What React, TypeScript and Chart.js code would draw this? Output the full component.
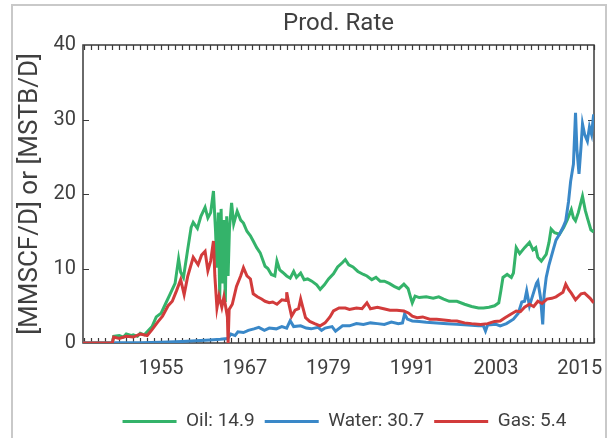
import React, { useEffect, useRef } from 'react';
import { Chart, registerables } from 'chart.js';

Chart.register(...registerables);

const CHART_TITLE = 'Prod. Rate';
const Y_TITLE = '[MMSCF/D] or [MSTB/D]';
const X_MIN = 1943.8;
const X_MAX = 2017.05;
const xTickYears = [1955, 1967, 1979, 1991, 2003, 2015];
const yTickValues = [0, 10, 20, 30, 40];
const seriesNames = ['Oil: 14.9', 'Water: 30.7', 'Gas: 5.4'];
const seriesColors = ['#34b36a', '#3a88c8', '#d23b3b'];

// [year, rate]
const oilSeries: [number, number][] = [
  [1943.8, 0], [1948.0, 0], [1948.2, 0.9], [1949, 1.0], [1949.6, 0.8], [1950, 1.2], [1950.7, 1.0], [1951, 1.1],
  [1951.6, 0.9], [1952, 1.3], [1952.6, 1.1], [1953, 1.5], [1953.7, 2.2], [1954.3, 3.5], [1955, 4.0],
  [1955.6, 5.2], [1956.3, 6.6], [1957, 8.0], [1957.5, 11.3], [1957.8, 9.5], [1958.2, 8.8], [1958.8, 12.5],
  [1959.3, 15.5], [1959.6, 16.2], [1960.2, 15.4], [1960.7, 17.0], [1961.3, 18.2], [1961.7, 16.8],
  [1962.1, 17.5], [1962.5, 20.4], [1962.8, 15.0], [1963.0, 10.1], [1963.2, 17.5], [1963.4, 6.0],
  [1963.6, 18.0], [1963.8, 8.0], [1964.0, 16.5], [1964.2, 5.5], [1964.4, 17.0], [1964.6, 9.0],
  [1964.8, 15.5], [1965.1, 18.8], [1965.4, 16.0], [1965.9, 17.7], [1966.4, 16.5], [1966.8, 16.1],
  [1967.3, 15.0], [1967.8, 14.4], [1968.2, 13.7], [1968.7, 12.8], [1969.2, 12.1], [1969.9, 10.3],
  [1970.3, 10.0], [1970.8, 9.2], [1971.3, 9.0], [1971.6, 11.0], [1972.0, 9.8], [1972.4, 9.5], [1973, 9.0],
  [1973.5, 8.7], [1974, 9.6], [1974.4, 8.8], [1975, 9.4], [1975.5, 8.5], [1976, 8.6], [1976.6, 8.3],
  [1977.3, 7.8], [1977.8, 7.2], [1978.4, 7.8], [1979, 8.6], [1979.7, 9.3], [1980.3, 10.2], [1981, 10.8],
  [1981.4, 11.2], [1981.9, 10.5], [1982.5, 10.2], [1983.2, 9.6], [1984, 9.2], [1984.5, 9.0], [1985.2, 8.5],
  [1985.8, 8.8], [1986.4, 8.3], [1987, 8.3], [1987.7, 8.0], [1988.4, 7.6], [1989.1, 7.3], [1989.8, 7.9],
  [1990.4, 7.3], [1990.8, 6.0], [1991.0, 5.4], [1991.4, 6.3], [1992, 6.1], [1993, 6.2], [1994, 6.0],
  [1994.8, 6.2], [1995.5, 5.9], [1996.3, 5.6], [1997.4, 5.6], [1998.5, 5.2], [1999.5, 4.9], [2000.5, 4.7],
  [2001.2, 4.7], [2002, 4.8], [2002.8, 5.0], [2003.4, 5.4], [2003.7, 7.0], [2004.0, 8.8], [2004.6, 9.2],
  [2005.2, 8.8], [2005.5, 9.4], [2005.9, 12.8], [2006.4, 12.0], [2007.1, 12.8], [2007.8, 13.5],
  [2008.3, 12.5], [2008.7, 12.8], [2009.0, 11.5], [2009.5, 11.0], [2010.2, 11.9], [2010.6, 13.5],
  [2010.9, 15.3], [2011.4, 14.8], [2012.1, 14.6], [2012.7, 15.5], [2013.2, 16.5], [2013.8, 17.9],
  [2014.1, 16.8], [2014.4, 16.4], [2014.8, 17.5], [2015.4, 19.7], [2015.8, 17.8], [2016.1, 16.8],
  [2016.6, 15.2], [2017.0, 14.9],
];

const waterSeries: [number, number][] = [
  [1943.8, 0], [1948.0, 0], [1948.5, 0.05], [1952, 0.05], [1955, 0.1], [1958, 0.2], [1960, 0.3],
  [1962, 0.4], [1963.5, 0.5], [1964.5, 0.6], [1965, 1.2], [1965.6, 1.0], [1966, 1.5], [1966.8, 1.4],
  [1967.5, 1.7], [1968.3, 1.9], [1969, 2.1], [1969.8, 1.7], [1970.5, 2.0], [1971.5, 1.9], [1972.3, 2.2],
  [1973, 2.0], [1973.5, 3.0], [1974, 2.2], [1975, 2.3], [1975.8, 2.0], [1976.5, 1.9], [1977.5, 2.1],
  [1978, 1.7], [1978.5, 2.0], [1979.5, 2.2], [1980, 1.6], [1981, 2.3], [1982, 2.3], [1983, 2.6],
  [1984, 2.5], [1985, 2.7], [1986, 2.6], [1987, 2.5], [1988, 2.8], [1989, 2.6], [1989.6, 2.7],
  [1989.9, 3.9], [1990.3, 3.2], [1991, 2.95], [1992, 2.9], [1993, 2.8], [1994.5, 2.7], [1996, 2.6],
  [1997.4, 2.5], [1999, 2.4], [2000.5, 2.3], [2001.2, 2.3], [2001.5, 1.6], [2001.8, 2.4], [2003, 2.5],
  [2003.6, 2.3], [2004.5, 2.6], [2005.5, 3.2], [2006.2, 4.0], [2006.7, 5.5], [2007.1, 5.6], [2007.4, 7.0],
  [2007.8, 5.0], [2008.3, 6.5], [2008.8, 8.0], [2009.0, 8.3], [2009.4, 6.0], [2009.7, 2.5], [2009.9, 6.5],
  [2010.2, 8.8], [2010.6, 10.5], [2011.2, 12.5], [2011.6, 13.8], [2012.1, 14.6], [2012.6, 15.5],
  [2013.0, 16.4], [2013.4, 19.0], [2013.7, 21.7], [2014.1, 24.0], [2014.4, 30.9], [2014.6, 26.0],
  [2014.9, 22.7], [2015.2, 26.5], [2015.4, 29.4], [2015.7, 28.0], [2016.1, 27.1], [2016.4, 29.0],
  [2016.7, 28.0], [2017.0, 30.7],
];

const gasSeries: [number, number][] = [
  [1943.8, 0], [1948.0, 0], [1948.2, 0.8], [1949, 0.6], [1950, 0.9], [1951, 0.8], [1952, 1.2], [1953, 1.0],
  [1953.7, 1.8], [1954.5, 2.8], [1955.2, 3.6], [1956, 5.0], [1956.6, 5.6], [1957.2, 7.0], [1957.8, 8.5],
  [1958.3, 6.5], [1958.8, 8.9], [1959.6, 11.5], [1960.3, 10.5], [1960.8, 11.8], [1961.3, 12.3],
  [1961.7, 9.7], [1962.1, 11.0], [1962.5, 13.7], [1962.7, 9.0], [1963.0, 4.7], [1963.3, 6.3],
  [1963.7, 4.8], [1964.0, 6.2], [1964.3, 4.6], [1964.5, 3.5], [1964.6, 0.0], [1964.75, 4.5],
  [1965.2, 5.2], [1965.8, 7.6], [1966.4, 9.0], [1966.8, 10.1], [1967.3, 9.0], [1967.8, 8.6],
  [1968.2, 6.6], [1968.8, 6.2], [1969.4, 5.9], [1969.9, 5.6], [1970.5, 5.4], [1971, 5.5], [1971.6, 5.2],
  [1972.3, 5.8], [1972.9, 5.7], [1973.0, 6.8], [1973.3, 5.3], [1973.7, 3.6], [1974.2, 4.4], [1974.7, 4.6],
  [1975.0, 5.9], [1975.3, 4.8], [1975.7, 3.4], [1976.3, 2.9], [1977, 2.6], [1977.8, 2.3], [1978.5, 2.7],
  [1979.2, 3.5], [1979.7, 4.3], [1980.5, 4.7], [1981.4, 4.7], [1982, 4.5], [1983, 4.7], [1983.8, 4.6],
  [1984.5, 5.4], [1985, 4.6], [1986, 4.8], [1986.9, 4.6], [1987.8, 4.4], [1988.8, 4.4], [1989.8, 4.3],
  [1990.5, 4.0], [1991.0, 3.6], [1991.7, 3.4], [1992.5, 3.5], [1993.5, 3.2], [1994.5, 3.2], [1995.5, 3.1],
  [1996.5, 3.0], [1997.4, 2.95], [1998.5, 2.7], [1999.5, 2.6], [2000.8, 2.5], [2001.8, 2.6], [2002.8, 2.9],
  [2003.6, 2.95], [2004.3, 3.4], [2005, 3.8], [2005.9, 4.3], [2006.5, 4.2], [2007.1, 4.8], [2007.8, 5.2],
  [2008.4, 4.9], [2009, 5.6], [2009.6, 5.3], [2010.3, 5.9], [2011, 6.0], [2011.6, 6.2], [2012.1, 6.5],
  [2012.6, 6.8], [2013, 7.9], [2013.4, 7.2], [2013.8, 6.7], [2014.4, 5.8], [2015.2, 6.6], [2015.7, 6.7],
  [2016.5, 6.0], [2017.0, 5.4],
];

const allSeries = [oilSeries, waterSeries, gasSeries];

const TEXT_COLOR = '#3f3f3f';
const AXIS_COLOR = '#3a3a3a';

const framePlugin = {
  id: 'frameTicks',
  afterLayout(chart: any) {
    if (chart.legend) {
      chart.legend.left += 6;
      chart.legend.right += 6;
    }
  },
  beforeDraw(chart: any) {
    const ctx = chart.ctx;
    ctx.save();
    ctx.strokeStyle = '#c9c9c9';
    ctx.lineWidth = 2;
    ctx.strokeRect(12, 5, 594, 480);
    ctx.restore();
  },
  beforeDatasetsDraw(chart: any) {
    const { ctx, chartArea, scales } = chart;
    const { left, right, top, bottom } = chartArea;
    const x = scales.x;
    const y = scales.y;
    ctx.save();
    ctx.strokeStyle = AXIS_COLOR;
    ctx.lineWidth = 1.5;
    ctx.strokeRect(left, top, right - left, bottom - top);
    ctx.beginPath();
    for (let yr = Math.ceil(x.min); yr <= x.max; yr++) {
      const px = Math.round(x.getPixelForValue(yr)) + 0.5;
      ctx.moveTo(px, bottom);
      ctx.lineTo(px, bottom - 5);
      ctx.moveTo(px, top);
      ctx.lineTo(px, top + 5);
    }
    for (const v of yTickValues) {
      if (v === 0 || v === 40) continue;
      const py = Math.round(y.getPixelForValue(v)) + 0.5;
      ctx.moveTo(left, py);
      ctx.lineTo(left + 6, py);
      ctx.moveTo(right, py);
      ctx.lineTo(right - 6, py);
    }
    ctx.lineWidth = 1.2;
    ctx.stroke();
    ctx.restore();
  },
};

export default function App() {
  const ref = useRef<HTMLCanvasElement | null>(null);

  useEffect(() => {
    if (!ref.current) return;
    const datasets = allSeries.map((s, i) => ({
      label: seriesNames[i],
      data: s.map(([t, v]) => ({ x: t, y: v })),
      borderColor: seriesColors[i],
      backgroundColor: seriesColors[i],
      borderWidth: 3,
      pointRadius: 0,
      tension: 0,
      order: 3 - i,
    }));
    const chart = new Chart(ref.current, {
      type: 'line',
      data: { datasets },
      plugins: [framePlugin],
      options: {
        responsive: false,
        animation: false,
        layout: { padding: { left: 0, right: 17, top: 0, bottom: 0 } },
        plugins: {
          tooltip: { enabled: false },
          title: {
            display: true,
            text: CHART_TITLE,
            fullSize: false,
            color: TEXT_COLOR,
            font: { family: 'Roboto', size: 24, weight: 'normal' },
            padding: { top: 10, bottom: 6.2 },
          },
          legend: {
            position: 'bottom',
            fullSize: false,
            labels: {
              boxWidth: 54,
              boxHeight: 0,
              padding: 10,
              color: TEXT_COLOR,
              font: { family: 'Roboto', size: 19 },
              sort: (a: any, b: any) => a.datasetIndex - b.datasetIndex,
            },
          },
        },
        scales: {
          x: {
            type: 'linear',
            min: X_MIN,
            max: X_MAX,
            afterBuildTicks: (s: any) => {
              s.ticks = xTickYears.map((v) => ({ value: v }));
            },
            afterFit: (s: any) => {
              s.height = 59;
              s.paddingLeft = 0;
              s.paddingRight = 0;
            },
            ticks: {
              autoSkip: false,
              maxRotation: 0,
              padding: 14,
              color: TEXT_COLOR,
              font: { family: 'Roboto', size: 20 },
              callback: (v: any) => String(v),
            },
            grid: { display: false, drawTicks: false },
            border: { display: false },
          },
          y: {
            min: 0,
            max: 40,
            afterBuildTicks: (s: any) => {
              s.ticks = yTickValues.map((v) => ({ value: v }));
            },
            afterFit: (s: any) => {
              s.width = 83;
            },
            ticks: {
              padding: 7,
              color: TEXT_COLOR,
              font: { family: 'Roboto', size: 20 },
            },
            grid: { display: false, drawTicks: false },
            border: { display: false },
            title: {
              display: true,
              text: Y_TITLE,
              color: TEXT_COLOR,
              font: { family: 'Roboto', size: 26 },
              padding: { top: 15, bottom: 0 },
            },
          },
        },
      },
    });
    return () => chart.destroy();
  }, []);

  return (
    <div style={{ position: 'fixed', left: 0, top: 0, width: 611, height: 441, background: '#fff' }}>
      <canvas ref={ref} width={611} height={441} style={{ display: 'block' }} />
    </div>
  );
}
